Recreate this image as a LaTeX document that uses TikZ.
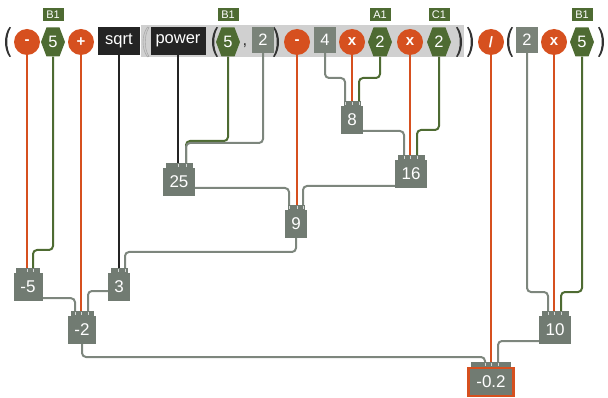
\documentclass[tikz,border=0pt]{standalone}
\usepackage{fontspec}
\setmainfont{Liberation Sans}
\definecolor{org}{HTML}{D6501F}
\definecolor{grn}{HTML}{4E6B32}
\definecolor{bgray}{HTML}{717B72}
\definecolor{sgray}{HTML}{7A8379}
\definecolor{wgray}{HTML}{7D867D}
\definecolor{blk}{HTML}{242424}
\definecolor{bandc}{HTML}{D0D0D0}
\definecolor{parc}{HTML}{333333}
\pgfdeclarelayer{back}
\pgfdeclarelayer{wires}
\pgfsetlayers{back,wires,main}
\newcommand\obox[5][]{%
  \node[obody,minimum width=#4pt,#1] (#2) at (#3) {#5};
  \node[otab,minimum width=#4pt-5pt,anchor=south] (#2t) at (#2.north) {};
}
\newcommand\hexnode[3]{%
  \begin{scope}[shift={(#2)}]
    \fill[grn] (-12,0) -- (-6.5,-14.5) -- (6.5,-14.5) -- (12,0) -- (6.5,14.5) -- (-6.5,14.5) -- cycle;
  \end{scope}
  \node[hext] (#1) at (#2) {#3};
}
\newcommand\ticks[2]{%
  \foreach \s in {#2} \draw[tickc] ([xshift=\s pt, yshift=-1pt]#1.north) -- ++(0,3);
}
\tikzset{
  x=1pt, y=-1pt,
  fnt/.style={font=\fontsize{16.5}{16.5}\selectfont},
  obody/.style={fill=bgray, text=white, inner sep=0pt, minimum height=28pt, font=\fontsize{17}{17}\selectfont},
  otab/.style={fill=bgray, inner sep=0pt, outer sep=0pt, minimum height=5pt},
  tickc/.style={draw=white!70!bgray, line width=0.8pt},
  circ/.style={circle, fill=org, text=white, minimum size=26pt, inner sep=0pt, font=\bfseries\fontsize{15}{15}\selectfont},
  hext/.style={text=white, minimum width=24pt, minimum height=29pt, inner sep=0pt, fnt},
  lbl/.style={fill=grn, text=white, minimum width=21pt, minimum height=13pt, inner sep=0pt, font=\fontsize{11}{11}\selectfont},
  sqn/.style={fill=sgray, text=white, minimum width=22pt, minimum height=26pt, inner sep=0pt, fnt},
  bbox/.style={fill=blk, text=white, minimum height=28pt, inner sep=0pt, fnt},
  wire/.style={line width=2pt, rounded corners=4pt},
  ow/.style={wire, draw=org},
  gw/.style={wire, draw=grn},
  yw/.style={wire, draw=wgray},
  kw/.style={wire, draw=blk},
  lparen/.pic={\fill[pic actions] (3.5,-15) .. controls (-2.5,-7) and (-2.5,7) .. (3.5,15) -- (5,14.5) .. controls (0,7) and (0,-7) .. (5,-14.5) -- cycle;},
  rparen/.pic={\fill[pic actions] (-3.5,-15) .. controls (2.5,-7) and (2.5,7) .. (-3.5,15) -- (-5,14.5) .. controls (0,7) and (0,-7) .. (-5,-14.5) -- cycle;},
}
\begin{document}
\begin{tikzpicture}
\useasboundingbox (0,0) rectangle (608,398);
\begin{pgfonlayer}{back}
  \fill[bandc] (141,25) rectangle (464,57);
\end{pgfonlayer}
% parentheses
\pic[fill=parc] at (6,42) {lparen};
\pic[fill=gray!40, draw=gray!75, line width=0.4pt] at (144,42) {lparen};
\pic[fill=parc] at (213,42) {lparen};
\pic[fill=parc] at (278,42) {rparen};
\pic[fill=parc] at (461,42) {rparen};
\pic[fill=parc] at (472,42) {rparen};
\pic[fill=parc] at (508,42) {lparen};
\pic[fill=parc] at (603,42) {rparen};
% top row
\node[circ] (m1) at (27,42) {-};
\hexnode{h1}{53,42}{5}
\node[lbl] (l1) at (53,15) {B1};
\node[circ] (p1) at (81,42) {+};
\node[bbox, minimum width=42pt] (sq) at (119,41) {sqrt};
\node[bbox, minimum width=55pt] (pw) at (178,41) {power};
\hexnode{h2}{228,42}{5}
\node[lbl] (l2) at (228,15) {B1};
\node[text=parc, fnt] (cm) at (245,46) {,};
\node[sqn] (g1) at (263,40) {2};
\node[circ] (m2) at (297,42) {-};
\node[sqn] (g2) at (325,40) {4};
\node[circ] (x1) at (352,42) {x};
\hexnode{h3}{380,42}{2}
\node[lbl] (l3) at (380,15) {A1};
\node[circ] (x2) at (410,42) {x};
\hexnode{h4}{439,42}{2}
\node[lbl] (l4) at (439,15) {C1};
\node[circ] (d1) at (491,42) {/};
\node[sqn] (g3) at (527,40) {2};
\node[circ] (x3) at (554,42) {x};
\hexnode{h5}{582,42}{5}
\node[lbl] (l5) at (582,15) {B1};
% result boxes
\obox{b8}{352,120}{22}{8}
\obox{b16}{411,174}{32}{16}
\obox{b25}{179,182}{32}{25}
\obox{b9}{296,224}{22}{9}
\obox{bm5}{28,287}{29}{-5}
\obox{b3}{119,287}{22}{3}
\obox{bm2}{82,330}{28}{-2}
\obox{b10}{555,330}{32}{10}
\obox[draw=org,line width=2.5pt]{bm02}{491,382}{45}{-0.2}
\ticks{b8t}{-7,0,7}
\ticks{b16t}{-7,-1,6}
\ticks{b25t}{-1,7}
\ticks{b9t}{-7,1,7}
\ticks{bm5t}{-1,5}
\ticks{b3t}{-1,6}
\ticks{bm2t}{-7,-1,6}
\ticks{b10t}{-7,-1,6}
\ticks{bm02t}{-6,0,7}
% wires
\begin{pgfonlayer}{wires}
  \draw[ow] (m1.south) -- (m1.south |- bm5t.north);
  \draw[gw] (h1.south) -- (h1.south |- 0,250) -| ([xshift=5pt]bm5t.north);
  \draw[yw] ([yshift=3pt]bm5.south) -| ([xshift=-7pt]bm2t.north);
  \draw[ow] (p1.south) -- (p1.south |- bm2t.north);
  \draw[kw] (sq.south) -- (sq.south |- b3t.north);
  \draw[yw] ([yshift=-4pt]b3.center) -| ([xshift=6pt]bm2t.north);
  \draw[kw] (pw.south) -- (pw.south |- b25t.north);
  \draw[gw] (h2.south) -- (h2.south |- 0,141) -| ([xshift=7pt]b25t.north);
  \draw[yw] (g1.south) -- (g1.south |- 0,143) -| ([xshift=7pt]b25t.north);
  \draw[ow] (m2.south) -- (m2.south |- b9t.north);
  \draw[yw] ([yshift=-6pt]b25.center) -| ([xshift=-7pt]b9t.north);
  \draw[yw] ([yshift=-12pt]b16.center) -| ([xshift=7pt]b9t.north);
  \draw[yw] (g2.south) -- (g2.south |- 0,78) -| ([xshift=-7pt]b8t.north);
  \draw[ow] (x1.south) -- (x1.south |- b8t.north);
  \draw[gw] (h3.south) -- (h3.south |- 0,78) -| ([xshift=7pt]b8t.north);
  \draw[yw] ([yshift=-11pt]b8.center) -| ([xshift=-7pt]b16t.north);
  \draw[ow] (x2.south) -- (x2.south |- b16t.north);
  \draw[gw] (h4.south) -- (h4.south |- 0,130) -| ([xshift=6pt]b16t.north);
  \draw[yw] (b9.south) -- (b9.south |- 0,252) -| ([xshift=6pt]b3t.north);
  \draw[ow] (d1.south) -- (d1.south |- bm02t.north);
  \draw[yw] (bm2.south) -- (bm2.south |- 0,357) -| ([xshift=-6pt]bm02t.north);
  \draw[yw] ([yshift=-11pt]b10.center) -| ([xshift=7pt]bm02t.north);
  \draw[yw] (g3.south) -- (g3.south |- 0,292) -| ([xshift=-7pt]b10t.north);
  \draw[ow] (x3.south) -- (x3.south |- b10t.north);
  \draw[gw] (h5.south) -- (h5.south |- 0,292) -| ([xshift=6pt]b10t.north);
\end{pgfonlayer}
\end{tikzpicture}
\end{document}
